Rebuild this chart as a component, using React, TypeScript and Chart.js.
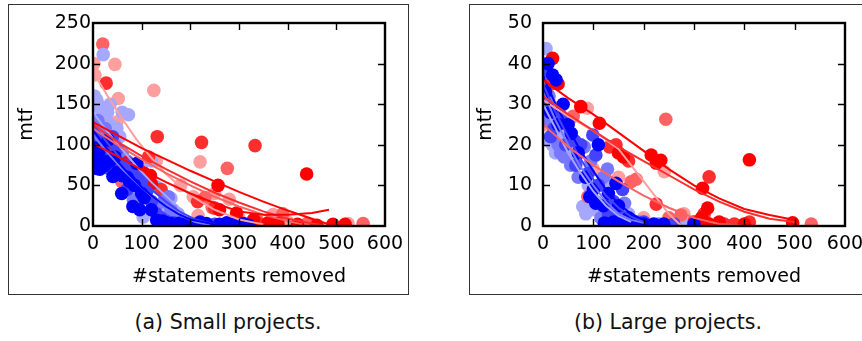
import React, { useEffect, useRef } from "react";
import { Chart, registerables } from "chart.js";
Chart.register(...registerables);

type Pt = [number, number];

// ---------- shared axis data ----------
const xTickMax = 600;
const xTickStep = 100;
const xTitle = "#statements removed";
const yTitle = "mtf";
const captions = ["(a) Small projects.", "(b) Large projects."];

// ---------- colours (per series) ----------
const seriesColors = {
  R1: "#ff0000",
  R2: "#ff2e2e",
  R3: "#ff6262",
  R4: "#ff9e9e",
  B1: "#0000ff",
  B2: "#4242ff",
  B3: "#7878ff",
  B4: "#a6a8ff",
};

// ---------- (a) small projects: points ----------
const smallR1: Pt[] = [[439, 64], [257, 50], [295, 16], [493, 2], [518, 2], [96, 68], [118, 62], [70, 78], [35, 92], [360, 4], [380, 3], [420, 2], [120, 52], [105, 65], [260, 20], [330, 8], [300, 5], [460, 1]];
const smallR2: Pt[] = [[223, 103], [333, 99], [132, 110], [27, 176], [45, 93], [114, 85], [250, 22], [140, 45], [215, 30], [340, 3]];
const smallR3: Pt[] = [[276, 71], [245, 23], [555, 3], [338, 6], [59, 55], [20, 224], [110, 60], [100, 70], [230, 35], [390, 15], [440, 3]];
const smallR4: Pt[] = [[4, 186], [45, 199], [52, 157], [125, 167], [220, 79], [216, 13], [206, 36], [49, 128], [524, 3], [370, 14], [2, 200], [130, 80], [180, 50], [250, 40], [280, 33], [300, 10], [400, 5]];
const smallB1: Pt[] = [[31, 106], [4, 96], [59, 40], [82, 24], [96, 20], [90, 77], [41, 61], [131, 7], [143, 6], [220, 5], [275, 4], [233, 3], [309, 3], [8, 71], [14, 70], [20, 80], [70, 60], [100, 40], [5, 85], [12, 90], [25, 75], [35, 80], [50, 66], [45, 85], [60, 62], [75, 55], [85, 50], [105, 35], [120, 20], [150, 4], [160, 3], [175, 3], [190, 2], [200, 2], [260, 2], [290, 2], [320, 1]];
const smallB2: Pt[] = [[40, 110], [10, 100], [55, 70], [90, 60], [120, 30], [140, 10], [180, 4], [250, 2], [70, 45], [5, 110], [18, 95], [28, 88], [35, 70], [50, 95], [65, 75], [80, 70], [100, 55], [110, 42], [130, 15], [150, 6], [165, 4]];
const smallB3: Pt[] = [[14, 85], [110, 55], [155, 36], [83, 32], [25, 120], [60, 90], [130, 25], [170, 8], [200, 3], [2, 120], [10, 130], [30, 110], [45, 100], [70, 80], [95, 65], [115, 48], [145, 30], [160, 20]];
const smallB4: Pt[] = [[21, 211], [73, 137], [8, 155], [14, 145], [30, 140], [49, 120], [131, 48], [103, 11], [165, 20], [5, 130], [20, 120], [40, 105], [115, 60], [150, 15], [185, 5], [90, 40], [3, 160], [10, 150], [25, 130], [35, 125], [55, 110], [60, 140], [35, 150], [100, 70], [120, 80], [160, 34], [175, 15]];

// ---------- (a) small projects: fitted curves ----------
const smallFitR1: Pt[] = [[5, 100], [50, 86], [100, 69], [150, 54], [200, 40], [250, 28], [300, 18], [350, 14], [400, 14], [450, 16], [485, 20]];
const smallFitR2: Pt[] = [[0, 128], [50, 112], [100, 96], [150, 82], [200, 68], [250, 55], [300, 42], [350, 30], [400, 19], [450, 9], [490, 1]];
const smallFitR3: Pt[] = [[0, 125], [50, 104], [100, 86], [150, 70], [200, 55], [250, 41], [300, 29], [350, 18], [400, 9], [450, 3], [480, 0]];
const smallFitR4a: Pt[] = [[0, 190], [30, 160], [60, 132], [90, 106], [120, 84], [150, 64], [200, 38], [250, 20], [300, 8], [350, 2]];
const smallFitR4b: Pt[] = [[0, 120], [50, 100], [100, 82], [150, 65], [200, 50], [250, 36], [300, 24], [350, 14], [400, 6], [430, 2]];
const smallFitB1: Pt[] = [[0, 118], [25, 98], [50, 80], [75, 63], [100, 48], [125, 35], [150, 24], [175, 15], [200, 8], [250, 2], [300, 0]];
const smallFitB2: Pt[] = [[0, 125], [30, 102], [60, 81], [90, 62], [120, 45], [150, 30], [180, 17], [210, 8], [250, 2]];
const smallFitB3: Pt[] = [[0, 112], [30, 90], [60, 70], [90, 53], [120, 37], [150, 24], [180, 13], [210, 5], [240, 1]];
const smallFitB4: Pt[] = [[0, 140], [30, 116], [60, 94], [90, 73], [120, 54], [150, 37], [170, 26]];

// ---------- (b) large projects: points ----------
const largeR1: Pt[] = [[19, 41.3], [75, 29.4], [112, 25.3], [410, 16.3], [215, 17.5], [234, 16.2], [317, 9.3], [327, 4.4], [496, 0.8], [30, 35], [350, 1], [150, 18], [225, 15.5], [160, 17], [315, 2], [330, 0.5], [400, 0.5]];
const largeR2: Pt[] = [[330, 12.1], [225, 5.4], [132, 19.5], [410, 1], [360, 0.5], [16, 35], [300, 1], [145, 20], [170, 16], [320, 3], [380, 0.5]];
const largeR3: Pt[] = [[244, 26.3], [175, 10.9], [185, 11.5], [274, 2.7], [533, 0.5], [89, 7.2], [60, 27], [10, 30], [320, 2], [300, 1], [250, 2]];
const largeR4: Pt[] = [[88, 29], [241, 13.4], [5, 25], [100, 14], [260, 1], [200, 2], [15, 30], [150, 12], [280, 3]];
const largeB1: Pt[] = [[19, 37.2], [26, 36], [145, 10.5], [105, 5.6], [93, 7.2], [56, 22.8], [122, 0.7], [140, 1], [160, 0.8], [200, 0.5], [240, 0.5], [10, 40], [30, 25], [110, 20], [5, 33], [15, 28], [40, 30], [50, 25], [70, 18], [85, 12], [100, 9], [120, 5], [130, 8], [150, 5], [170, 2], [180, 1], [220, 0.5], [300, 0.5]];
const largeB2: Pt[] = [[22, 24], [99, 22.4], [105, 17.5], [158, 9], [63, 21], [175, 1.5], [260, 0.5], [8, 38], [75, 20], [130, 3], [3, 30], [15, 22], [35, 27], [45, 20], [65, 15], [90, 13], [110, 10], [140, 6], [150, 3], [200, 1]];
const largeB3: Pt[] = [[42, 17], [82, 19.5], [128, 14], [162, 5.6], [307, 0.5], [30, 20], [12, 32], [115, 2], [190, 1], [5, 26], [20, 25], [35, 18], [55, 15], [70, 12], [95, 16], [105, 6], [120, 12], [150, 2], [230, 0.5]];
const largeB4: Pt[] = [[6, 43.7], [13, 21], [79, 4.8], [242, 0.5], [4, 40], [25, 18], [50, 17], [140, 1.5], [90, 10], [2, 35], [10, 28], [18, 20], [40, 22], [60, 20], [85, 3], [100, 4], [125, 11], [170, 3], [280, 0.5]];

// ---------- (b) large projects: fitted curves ----------
const largeFitR1: Pt[] = [[0, 36], [50, 31.5], [100, 27.5], [150, 23], [200, 18.5], [250, 14], [300, 10], [350, 6.8], [400, 4.2], [450, 2.7], [500, 1.5]];
const largeFitR2: Pt[] = [[0, 32], [50, 27.5], [100, 23.5], [150, 19.5], [200, 16], [250, 12.5], [300, 9], [350, 6], [400, 3.5], [450, 1.8], [500, 1]];
const largeFitR3: Pt[] = [[0, 25], [50, 19.5], [100, 15], [150, 11], [200, 7.5], [250, 4.5], [300, 2], [350, 0.5], [400, 0]];
const largeFitR4: Pt[] = [[0, 31], [50, 27], [100, 23.5], [150, 19], [200, 11], [250, 3], [275, 0]];
const largeFitB1: Pt[] = [[0, 37], [25, 30], [50, 24], [75, 18.5], [100, 13.5], [125, 9], [150, 5.5], [175, 3], [200, 1.5], [250, 0.5]];
const largeFitB2: Pt[] = [[0, 35], [25, 28], [50, 22], [75, 16.5], [100, 11.5], [125, 7.5], [150, 4.5], [175, 2.3], [200, 1]];
const largeFitB3: Pt[] = [[0, 33], [25, 26], [50, 20], [75, 14.5], [100, 10], [125, 6], [150, 3], [175, 1.5], [200, 0.8]];
const largeFitB4: Pt[] = [[0, 30], [25, 24], [50, 18], [75, 13], [100, 8.5], [125, 5], [150, 2.5], [175, 1]];

const FONT = "'DejaVu Sans', sans-serif";

type SeriesPts = { pts: Pt[]; color: string };

const framePlugin = {
  id: "frameTicks",
  afterDraw(chart: any) {
    const { ctx, chartArea: a, scales } = chart;
    const xs = scales.x;
    const ys = scales.y;
    const L = 7;
    ctx.save();
    ctx.strokeStyle = "#000";
    ctx.lineWidth = 1.4;
    ctx.beginPath();
    xs.ticks.forEach((t: any) => {
      if (t.value <= xs.min || t.value >= xs.max) return;
      const px = Math.round(xs.getPixelForValue(t.value)) + 0.5;
      ctx.moveTo(px, a.top);
      ctx.lineTo(px, a.top + L);
      ctx.moveTo(px, a.bottom);
      ctx.lineTo(px, a.bottom - L);
    });
    ys.ticks.forEach((t: any) => {
      if (t.value <= ys.min || t.value >= ys.max) return;
      const py = Math.round(ys.getPixelForValue(t.value)) + 0.5;
      ctx.moveTo(a.left, py);
      ctx.lineTo(a.left + L, py);
      ctx.moveTo(a.right, py);
      ctx.lineTo(a.right - L, py);
    });
    ctx.stroke();
    ctx.lineWidth = 2.4;
    ctx.strokeRect(a.left, a.top, a.right - a.left, a.bottom - a.top);
    ctx.restore();
  },
};

type PanelProps = {
  left: number;
  top: number;
  width: number;
  height: number;
  yAxisW: number;
  xAxisH: number;
  padTop: number;
  padRight: number;
  yMax: number;
  yStep: number;
  yLabelPad: number;
  yTitlePad: number;
  points: SeriesPts[];
  fits: SeriesPts[];
};

function Panel(p: PanelProps) {
  const ref = useRef<HTMLCanvasElement>(null);
  useEffect(() => {
    const datasets: any[] = [];
    p.fits.forEach((f) => {
      datasets.push({
        data: f.pts.map(([x, y]) => ({ x, y })),
        showLine: true,
        borderColor: f.color,
        backgroundColor: f.color,
        borderWidth: 2,
        pointRadius: 0,
        pointHoverRadius: 0,
        order: 1,
        clip: 0,
      });
    });
    p.points.forEach((s, i) => {
      datasets.push({
        data: s.pts.map(([x, y]) => ({ x, y })),
        showLine: false,
        backgroundColor: s.color,
        borderWidth: 0,
        pointRadius: 6.8,
        pointHoverRadius: 6.8,
        order: 2 + i,
        clip: 0,
      });
    });
    const tickFont = { family: FONT, size: 19 };
    const chart = new Chart(ref.current as HTMLCanvasElement, {
      type: "scatter",
      data: { datasets },
      plugins: [framePlugin],
      options: {
        animation: false,
        responsive: false,
        devicePixelRatio: 1,
        events: [],
        layout: { padding: { top: p.padTop, right: p.padRight, left: 0, bottom: 0 } },
        plugins: { legend: { display: false }, tooltip: { enabled: false } },
        scales: {
          x: {
            type: "linear",
            min: 0,
            max: xTickMax,
            grid: { display: false, drawTicks: false },
            border: { display: false },
            ticks: { stepSize: xTickStep, color: "#000", font: tickFont, padding: 7, maxRotation: 0 },
            title: { display: true, text: xTitle, color: "#000", font: tickFont, padding: { top: 0, bottom: 7 } },
            afterFit: (s: any) => {
              s.height = p.xAxisH;
              s.paddingLeft = 0;
              s.paddingRight = 0;
            },
          },
          y: {
            type: "linear",
            min: 0,
            max: p.yMax,
            grid: { display: false, drawTicks: false },
            border: { display: false },
            ticks: { stepSize: p.yStep, color: "#000", font: tickFont, padding: p.yLabelPad },
            title: { display: true, text: yTitle, color: "#000", font: tickFont, padding: { top: p.yTitlePad, bottom: 0 } },
            afterFit: (s: any) => {
              s.width = p.yAxisW;
              s.paddingTop = 0;
              s.paddingBottom = 0;
            },
          },
        },
      } as any,
    });
    return () => chart.destroy();
  }, []);
  return (
    <canvas
      ref={ref}
      width={p.width}
      height={p.height}
      style={{ position: "absolute", left: p.left, top: p.top, width: p.width, height: p.height }}
    />
  );
}

const C = seriesColors;

export default function App() {
  const smallPoints: SeriesPts[] = [
    { pts: smallB1, color: C.B1 },
    { pts: smallB2, color: C.B2 },
    { pts: smallR1, color: C.R1 },
    { pts: smallB3, color: C.B3 },
    { pts: smallR2, color: C.R2 },
    { pts: smallB4, color: C.B4 },
    { pts: smallR3, color: C.R3 },
    { pts: smallR4, color: C.R4 },
  ];
  const smallFits: SeriesPts[] = [
    { pts: smallFitR1, color: C.R1 },
    { pts: smallFitR2, color: C.R1 },
    { pts: smallFitR3, color: C.R2 },
    { pts: smallFitR4b, color: C.R3 },
    { pts: smallFitR4a, color: C.R4 },
    { pts: smallFitB1, color: C.B1 },
    { pts: smallFitB2, color: C.B2 },
    { pts: smallFitB3, color: C.B3 },
    { pts: smallFitB4, color: C.B4 },
  ];
  const largePoints: SeriesPts[] = [
    { pts: largeB1, color: C.B1 },
    { pts: largeR1, color: C.R1 },
    { pts: largeB2, color: C.B2 },
    { pts: largeR2, color: C.R2 },
    { pts: largeB3, color: C.B3 },
    { pts: largeR3, color: C.R3 },
    { pts: largeB4, color: C.B4 },
    { pts: largeR4, color: C.R4 },
  ];
  const largeFits: SeriesPts[] = [
    { pts: largeFitR1, color: C.R1 },
    { pts: largeFitR2, color: C.R2 },
    { pts: largeFitR3, color: C.R3 },
    { pts: largeFitR4, color: C.R4 },
    { pts: largeFitB1, color: C.B1 },
    { pts: largeFitB2, color: C.B2 },
    { pts: largeFitB3, color: C.B3 },
    { pts: largeFitB4, color: C.B4 },
  ];
  const capStyle: React.CSSProperties = {
    position: "absolute",
    top: 310,
    width: 300,
    textAlign: "center",
    fontFamily: FONT,
    fontSize: 20.5,
    lineHeight: "24px",
    color: "#111",
    whiteSpace: "nowrap",
  };
  return (
    <div style={{ position: "absolute", left: 0, top: 0, width: 862, height: 341, overflow: "hidden", background: "#fff" }}>
      <div style={{ position: "absolute", left: 8, top: 4, width: 401, height: 291, border: "1px solid #333", boxSizing: "border-box" }} />
      <div style={{ position: "absolute", left: 469, top: 4, width: 420, height: 291, border: "1px solid #333", boxSizing: "border-box" }} />
      <Panel left={8} top={4} width={401} height={291} yAxisW={85} xAxisH={69} padTop={19} padRight={24}
        yMax={250} yStep={50} yLabelPad={2} yTitlePad={7.6} points={smallPoints} fits={smallFits} />
      <Panel left={469} top={4} width={393} height={291} yAxisW={74} xAxisH={69} padTop={19} padRight={17}
        yMax={50} yStep={10} yLabelPad={11} yTitlePad={5.6} points={largePoints} fits={largeFits} />
      <div style={{ ...capStyle, left: 228 - 150 }}>{captions[0]}</div>
      <div style={{ ...capStyle, left: 668 - 150 }}>{captions[1]}</div>
    </div>
  );
}
